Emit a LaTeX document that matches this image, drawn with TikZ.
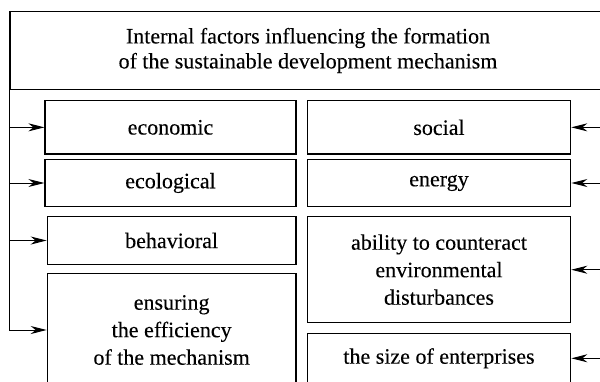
\documentclass[tikz,border=0pt]{standalone}
\usepackage{fontspec}
\setmainfont{Liberation Serif}[FakeBold=0.15]
\usetikzlibrary{arrows.meta}
\begin{document}
\begin{tikzpicture}[x=1pt,y=-1pt,
  box/.style={draw, line width=1.2pt, inner sep=0pt, align=center,
    font=\fontsize{22}{27.5}\selectfont},
  arr/.style={line width=1pt, -{Stealth[length=16pt,width=8pt,inset=5pt]}}]
\useasboundingbox (0,0) rectangle (600,381);
\clip (0,0) rectangle (600,381);
\fill[white] (0,0) rectangle (600,381);
% title box
\node[box, minimum width=596pt, minimum height=77.6pt,
  font=\fontsize{22}{25}\selectfont] (title) at (308,50.5)
  {Internal factors influencing the formation\\of the sustainable development mechanism};
% left column
\node[box, minimum width=251pt, minimum height=53.3pt] (economic) at (170.5,127.35) {economic};
\node[box, minimum width=251pt, minimum height=47.4pt] (ecological) at (170.5,183) {ecological};
\node[box, minimum width=248.7pt, minimum height=47.6pt] (behavioral) at (171.65,240.5) {behavioral};
\node[box, minimum width=248.7pt, minimum height=113.4pt] (ensuring) at (171.65,330) {ensuring\\the efficiency\\of the mechanism};
% right column
\node[box, minimum width=263.4pt, minimum height=53.3pt] (social) at (439,127.35) {social};
\node[box, minimum width=263.4pt, minimum height=47.4pt] (energy) at (439,183) {energy};
\node[box, minimum width=263.4pt, minimum height=106pt] (ability) at (439,269.7) {ability to counteract\\environmental\\disturbances};
\node[box, minimum width=263.4pt, minimum height=50pt] (size) at (439,358.3) {the size of enterprises};
% left connectors
\draw[arr] (title.south west) |- (ensuring.west);
\draw[arr] (title.south west |- economic.west) -- (economic.west);
\draw[arr] (title.south west |- ecological.west) -- (ecological.west);
\draw[arr] (title.south west |- behavioral.west) -- (behavioral.west);
% right connectors
\coordinate (R) at (601,0);
\draw[arr] (R |- social.east) -- (social.east);
\draw[arr] (R |- energy.east) -- (energy.east);
\draw[arr] (R |- ability.east) -- (ability.east);
\draw[arr] (R |- size.east) -- (size.east);
\end{tikzpicture}
\end{document}
